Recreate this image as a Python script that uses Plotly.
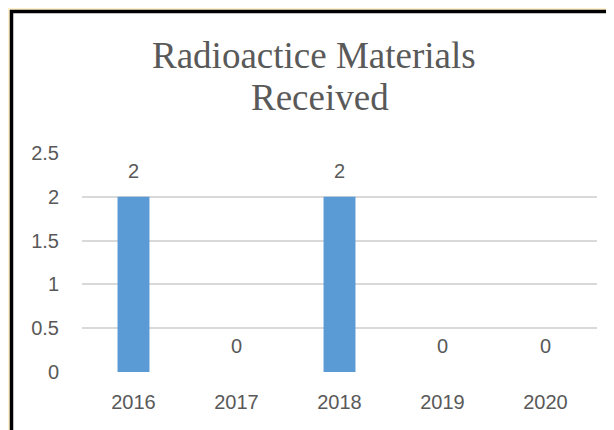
import plotly.graph_objects as go

years = ['2016', '2017', '2018', '2019', '2020']
received = [2, 0, 2, 0, 0]
y_ticks = [0, 0.5, 1, 1.5, 2, 2.5]
y_tick_text = ['0', '0.5', '1', '1.5', '2', '2.5']
title_lines = ['Radioactice Materials', 'Received']

# the page puts the figure 8px in from the top-left corner
OFF = 8
W, H = 614 - OFF, 430 - OFF
ML, MR, MT, MB = 82 - OFF, 17, 153 - OFF, 58
pw = W - ML - MR
ph = H - MT - MB

text_grey = '#595959'
tick_font = dict(family='Liberation Sans, sans-serif', size=20, color=text_grey)
title_font = dict(family='Liberation Serif, serif', size=37, color=text_grey)


def px_x(p):
    # page pixel -> paper x
    return (p - OFF - ML) / pw


def px_y(p):
    # page pixel -> paper y
    return (H - MB - (p - OFF)) / ph


fig = go.Figure()
fig.add_trace(go.Bar(x=years, y=received, marker=dict(color='#5B9BD5', line=dict(width=0)),
                     hoverinfo='x+y'))

# data labels above the bars (x by category index)
for i, v in enumerate(received):
    fig.add_annotation(x=i, y=v, text=str(v), showarrow=False, yanchor='bottom',
                       yshift=13, font=tick_font)

# two-line title
for txt, cy, cx in zip(title_lines, [55.5, 97.5], [314, 320]):
    fig.add_annotation(xref='paper', yref='paper', x=px_x(cx), y=px_y(cy), text=txt,
                       showarrow=False, xanchor='center', yanchor='middle', font=title_font)

# black-edged white card on the cream page
fig.add_shape(type='rect', xref='paper', yref='paper', layer='below',
              x0=px_x(11.5), x1=px_x(640), y0=px_y(460), y1=px_y(11.5),
              line=dict(color='black', width=3.5), fillcolor='white')

fig.update_layout(
    width=W, height=H,
    margin=dict(l=ML, r=MR, t=MT, b=MB, autoexpand=False),
    paper_bgcolor='#FFF2CC',
    plot_bgcolor='white',
    showlegend=False,
    bargap=0.69,
)
fig.update_xaxes(type='category', range=[-0.5, 4.5], showline=False, showgrid=False,
                 zeroline=False, ticks='', tickfont=tick_font, ticklabelstandoff=16,
                 automargin=False)
fig.update_yaxes(range=[0, 2.5], tickvals=y_ticks, ticktext=y_tick_text,
                 showline=False, showgrid=True, gridcolor='#D9D9D9', gridwidth=2,
                 zeroline=False, ticks='', tickfont=tick_font, ticklabelstandoff=22,
                 automargin=False)

fig.write_html('out.html')
